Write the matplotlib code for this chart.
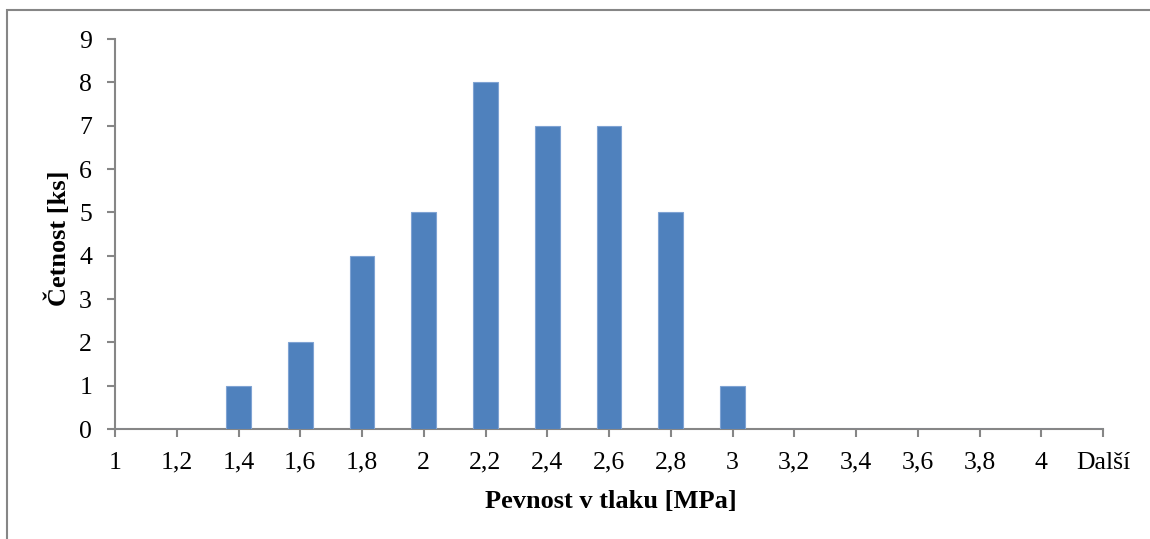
import matplotlib
matplotlib.use("Agg")
import matplotlib.pyplot as plt
from matplotlib.patches import Rectangle

# histogram classes and counts
categories = ["1", "1,2", "1,4", "1,6", "1,8", "2", "2,2", "2,4", "2,6",
              "2,8", "3", "3,2", "3,4", "3,6", "3,8", "4", "Další"]
counts = [0, 0, 1, 2, 4, 5, 8, 7, 7, 5, 1, 0, 0, 0, 0, 0, 0]

plt.rcParams["font.family"] = ["Liberation Serif", "DejaVu Serif"]

W, H = 1150, 539
fig = plt.figure(figsize=(W / 100, H / 100), dpi=100)
# axes box in pixels: x 115..1103, y 39..429
ax = fig.add_axes([115 / W, 1 - 429 / H, 988 / W, 390 / H])

axis_color = "#868686"
x = list(range(len(categories)))
ax.bar(x, counts, width=0.4, color="#4F81BD", edgecolor="#7FA3D3",
       linewidth=0.8, zorder=3)

ax.set_xlim(0, len(categories) - 1)
ax.set_ylim(0, 9)
ax.set_xticks(x)
ax.set_xticklabels(categories)
ax.set_yticks(range(10))

for side in ["top", "right"]:
    ax.spines[side].set_visible(False)
for side in ["left", "bottom"]:
    ax.spines[side].set_color(axis_color)
    ax.spines[side].set_linewidth(1.5)

ax.tick_params(axis="both", colors=axis_color, length=5.5, width=1.5,
               labelsize=18.5, labelcolor="black")
ax.tick_params(axis="x", pad=11)
ax.tick_params(axis="y", pad=11)

ax.set_xlabel("Pevnost v tlaku [MPa]", fontsize=19, fontweight="bold")
ax.set_ylabel("Četnost [ks]", fontsize=19, fontweight="bold")
ax.xaxis.set_label_coords(0.5015, -0.157)
ax.yaxis.set_label_coords(-0.045, 0.49)

# outer frame (right and bottom edges fall outside the image)
fig.patches.append(Rectangle((7 / W, -0.1), 1.2, 1 - 10 / H + 0.1,
                             transform=fig.transFigure, fill=False,
                             edgecolor=axis_color, linewidth=1.5))

fig.savefig("out.png", dpi=100)
